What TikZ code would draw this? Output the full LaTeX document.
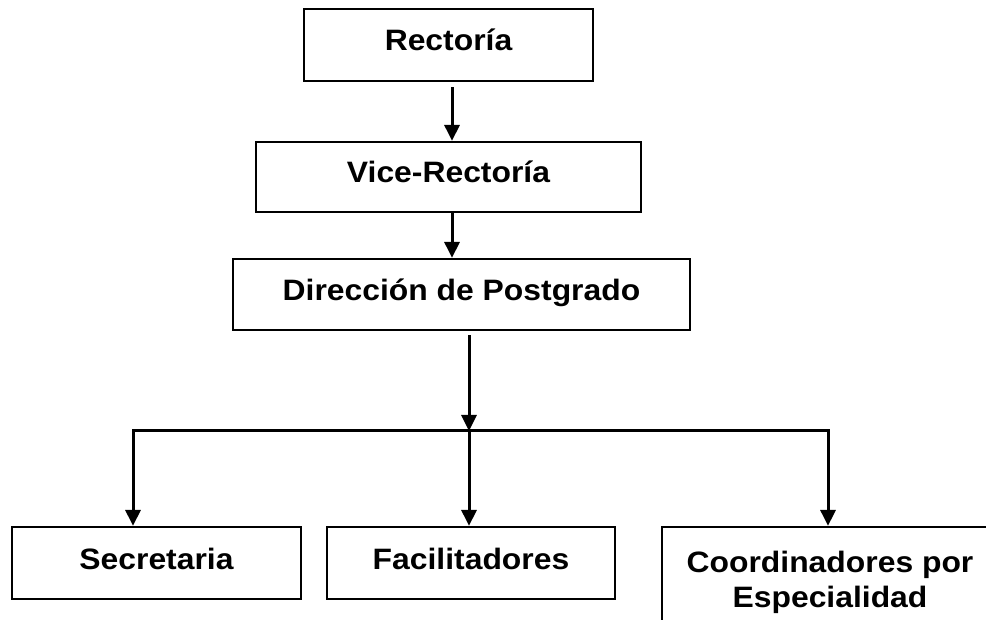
\documentclass[tikz,border=0pt]{standalone}
\usepackage{fontspec}
\setmainfont{Liberation Sans}[FakeStretch=1.08]
\usetikzlibrary{arrows.meta,calc}
\begin{document}
\begin{tikzpicture}[x=1pt,y=-1pt,
  orgbox/.style={draw=black, line width=2.2pt, inner sep=0pt, align=center,
    font=\fontsize{29.5}{35}\selectfont\bfseries},
  onel/.style={text height=23pt, text depth=11pt},
  conn/.style={draw=black, line width=3pt},
  arr/.style={conn, -{Triangle[length=16pt,width=15pt]}}]
\useasboundingbox (0,0) rectangle (986,620);
\fill[white] (0,0) rectangle (986,620);

\node[orgbox, onel, minimum width=289pt, minimum height=72pt] (rect) at (448.5,45) {Rectoría};
\node[orgbox, onel, minimum width=385pt, minimum height=70pt] (vice) at (448.5,177) {Vice-Rectoría};
\node[orgbox, onel, minimum width=457pt, minimum height=71pt] (dir) at (461.5,294.5) {Dirección de Postgrado};
\node[orgbox, onel, minimum width=289pt, minimum height=72pt] (sec) at (156.5,563) {Secretaria};
\node[orgbox, onel, minimum width=288pt, minimum height=72pt] (fac) at (471,563) {Facilitadores};
\begin{scope}
  \clip (0,0) rectangle (986,620);
  \node[orgbox, minimum width=336pt, minimum height=111pt] (coord) at (830,582.5)
    {Coordinadores por\\Especialidad};
\end{scope}

\coordinate (jl) at (133,431);
\coordinate (jm) at (469,431);
\coordinate (jr) at (828,431);

\draw[arr, shorten <=5pt] ($(rect.south)+(3.5,0)$) -- ($(vice.north)+(3.5,0)$);
\draw[arr] ($(vice.south)+(3.5,0)$) -- ($(dir.north)+(-9.5,0)$);
\draw[arr, shorten <=4pt] (dir.south -| jm) -- (jm);
\draw[conn, line cap=rect] (jl) -- (jr);
\draw[arr] (jl) -- (jl |- sec.north);
\draw[arr] (jm) -- (jm |- fac.north);
\draw[arr] (jr) -- (jr |- coord.north);
\end{tikzpicture}
\end{document}
